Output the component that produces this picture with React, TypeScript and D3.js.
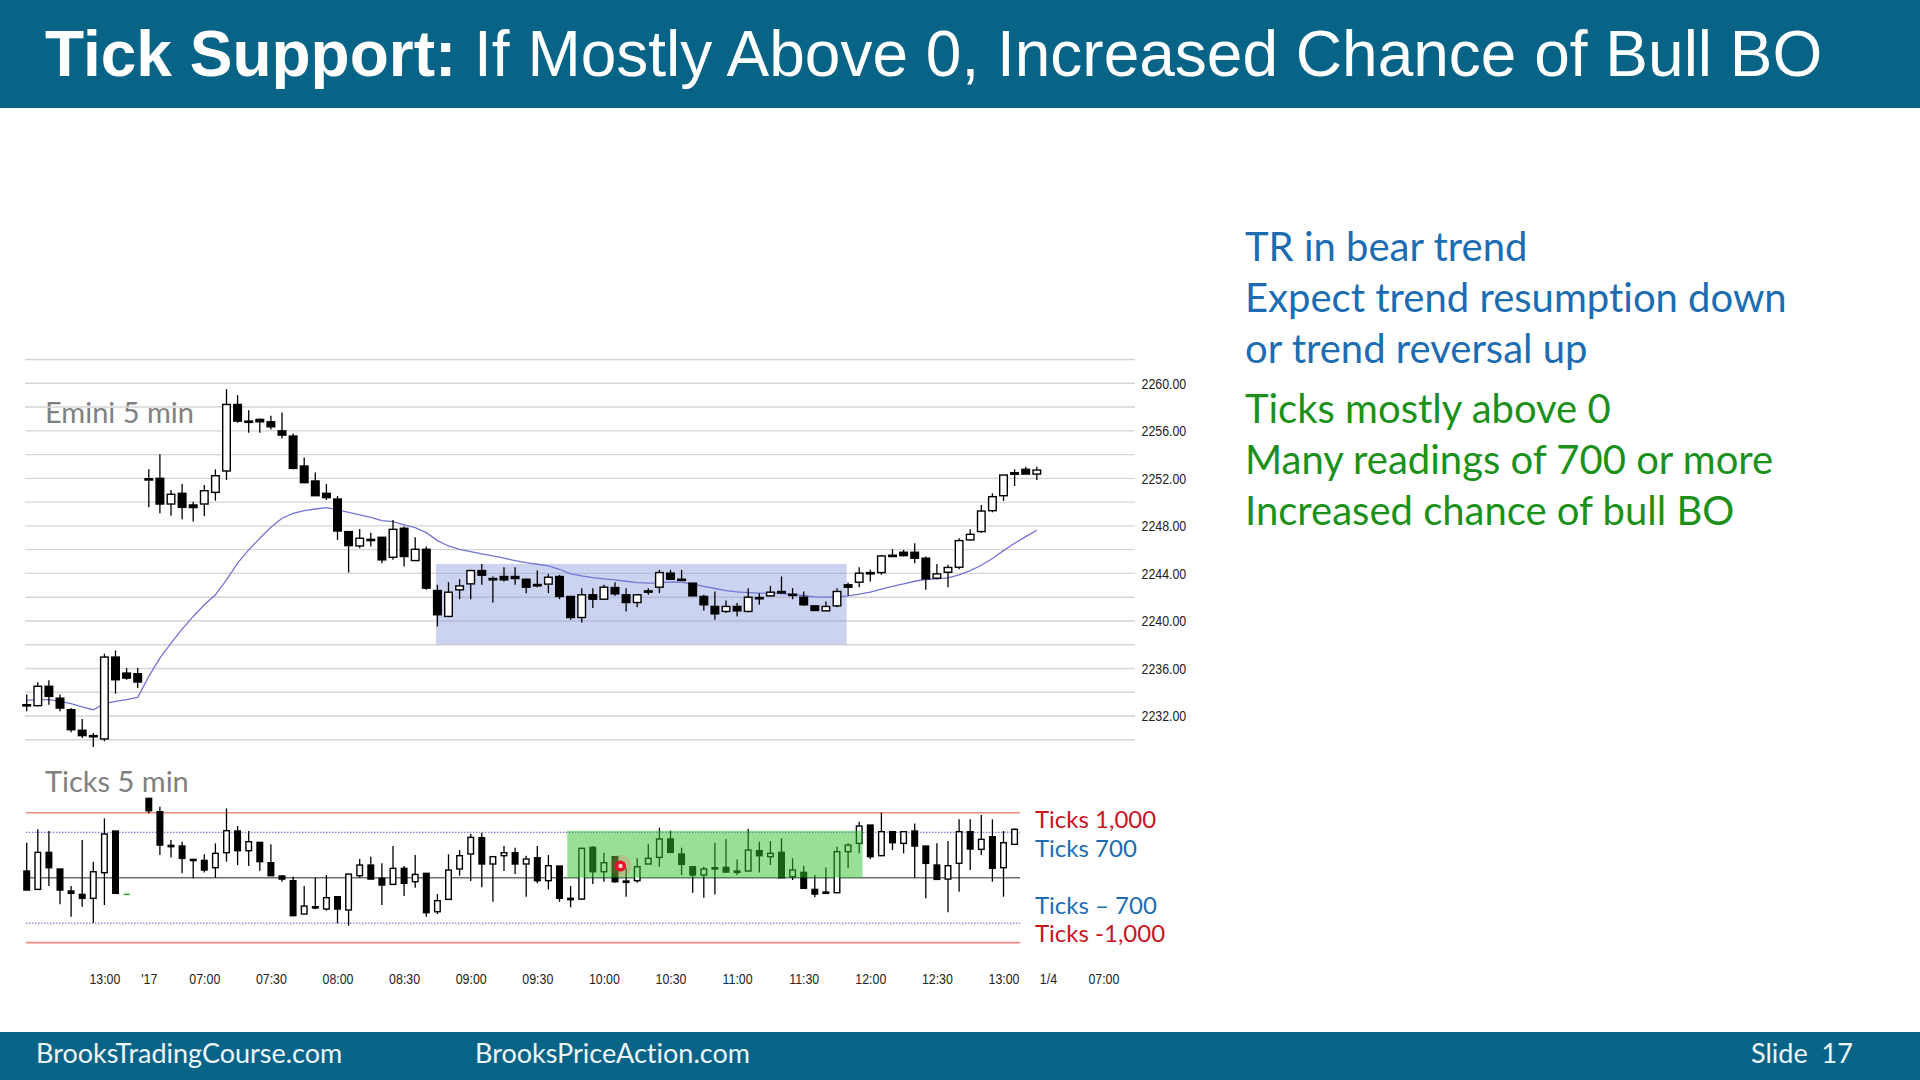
import { useRef, useEffect } from 'react'
import * as d3 from 'd3'

type Candle = [number, number, number, number] // open, high, low, close

// 5-minute sessions shown on the x axis (last one is empty space on the right)
const sessions = [
  { day: '12/30', from: '12:25', to: '13:15' },
  { day: '1/3', from: '06:35', to: '13:15' },
  { day: '1/4', from: '06:35', to: '07:00' },
]

const timeTicks: [string, string][] = [
  ['12/30 13:00', '13:00'],
  ['1/3 06:35', "'17"],
  ['1/3 07:00', '07:00'],
  ['1/3 07:30', '07:30'],
  ['1/3 08:00', '08:00'],
  ['1/3 08:30', '08:30'],
  ['1/3 09:00', '09:00'],
  ['1/3 09:30', '09:30'],
  ['1/3 10:00', '10:00'],
  ['1/3 10:30', '10:30'],
  ['1/3 11:00', '11:00'],
  ['1/3 11:30', '11:30'],
  ['1/3 12:00', '12:00'],
  ['1/3 12:30', '12:30'],
  ['1/3 13:00', '13:00'],
  ['1/4 06:35', '1/4'],
  ['1/4 07:00', '07:00'],
]

const eminiBars: Candle[] = [
  [2232.95, 2233.8, 2232.4, 2232.95], [2232.87, 2234.83, 2232.8, 2234.5], [2234.5, 2235.0, 2232.95, 2233.65],
  [2233.5, 2233.8, 2232.4, 2232.67], [2232.53, 2232.67, 2230.63, 2230.85], [2230.8, 2231.75, 2230.15, 2230.35],
  [2230.35, 2230.57, 2229.4, 2230.3], [2230.07, 2237.24, 2229.87, 2236.96], [2236.96, 2237.52, 2233.88, 2235.05],
  [2235.61, 2236.03, 2235.05, 2235.19], [2235.56, 2236.03, 2234.35, 2234.86],
  [2251.97, 2252.76, 2249.56, 2251.86], [2252.0, 2254.02, 2249.06, 2249.84], [2249.84, 2251.02, 2248.86, 2250.66],
  [2250.74, 2251.52, 2248.55, 2249.56], [2249.76, 2250.04, 2248.36, 2249.54], [2249.84, 2251.44, 2248.83, 2250.96],
  [2250.82, 2252.76, 2250.12, 2252.22], [2252.62, 2259.51, 2251.86, 2258.22], [2258.22, 2259.0, 2256.68, 2256.82],
  [2256.82, 2257.74, 2255.84, 2256.71], [2256.96, 2257.04, 2255.84, 2256.76], [2256.76, 2257.27, 2256.12, 2256.34],
  [2256.0, 2257.55, 2255.36, 2255.64], [2255.56, 2255.78, 2252.76, 2252.84], [2253.04, 2253.76, 2251.58, 2251.64],
  [2251.78, 2252.5, 2250.54, 2250.54], [2250.74, 2251.52, 2250.18, 2250.38], [2250.26, 2250.52, 2246.82, 2247.57],
  [2247.52, 2247.52, 2244.07, 2246.34], [2246.31, 2247.74, 2246.12, 2246.96], [2246.87, 2247.43, 2246.26, 2246.76],
  [2247.04, 2247.04, 2244.86, 2245.14], [2245.36, 2248.5, 2245.14, 2247.71], [2247.8, 2247.94, 2244.58, 2245.42],
  [2245.08, 2247.04, 2245.08, 2246.03], [2246.03, 2246.26, 2242.62, 2242.76], [2242.56, 2243.04, 2239.54, 2240.52],
  [2240.38, 2243.26, 2240.32, 2242.42], [2242.62, 2243.51, 2241.83, 2242.95], [2243.12, 2244.3, 2241.83, 2244.24],
  [2244.24, 2244.8, 2243.04, 2243.85], [2243.57, 2243.74, 2241.55, 2243.46], [2243.74, 2244.52, 2243.32, 2243.46],
  [2243.74, 2244.52, 2243.04, 2243.57], [2243.51, 2243.51, 2242.34, 2242.84], [2243.07, 2244.24, 2242.84, 2242.95],
  [2243.1, 2243.96, 2242.34, 2243.68], [2243.74, 2243.88, 2241.83, 2242.06], [2242.06, 2242.06, 2240.1, 2240.29],
  [2240.29, 2242.76, 2239.87, 2242.2], [2242.2, 2242.76, 2241.08, 2241.83], [2241.83, 2243.04, 2241.78, 2242.84],
  [2242.81, 2243.26, 2242.11, 2242.28], [2242.2, 2242.76, 2240.8, 2241.55], [2241.55, 2242.2, 2241.16, 2242.2],
  [2242.53, 2242.76, 2242.2, 2242.42], [2242.84, 2244.3, 2242.34, 2244.07], [2244.02, 2244.3, 2243.46, 2243.51],
  [2243.51, 2244.3, 2243.4, 2243.46], [2243.18, 2243.18, 2242.11, 2242.11], [2242.06, 2242.2, 2240.88, 2241.36],
  [2241.22, 2242.48, 2240.1, 2240.6], [2240.8, 2241.72, 2240.66, 2241.22], [2241.22, 2241.5, 2240.38, 2240.85],
  [2240.8, 2242.76, 2240.74, 2242.0], [2241.97, 2242.34, 2241.36, 2241.86], [2242.11, 2242.95, 2242.06, 2242.42],
  [2242.48, 2243.74, 2242.34, 2242.36], [2242.25, 2242.76, 2241.83, 2242.14], [2242.0, 2242.48, 2241.27, 2241.36],
  [2241.27, 2241.27, 2240.88, 2240.88], [2240.85, 2241.64, 2240.85, 2241.22], [2241.27, 2242.76, 2241.16, 2242.48],
  [2243.04, 2243.23, 2242.11, 2242.84], [2243.26, 2244.52, 2242.84, 2244.02], [2244.07, 2244.3, 2243.32, 2243.96],
  [2244.07, 2245.56, 2243.88, 2245.47], [2245.53, 2246.03, 2245.36, 2245.42], [2245.78, 2245.98, 2245.42, 2245.5],
  [2245.78, 2246.54, 2244.86, 2245.28], [2245.28, 2245.42, 2242.62, 2243.54], [2243.6, 2244.8, 2243.51, 2243.96],
  [2244.1, 2244.72, 2242.84, 2244.5], [2244.52, 2246.96, 2244.35, 2246.76], [2246.82, 2247.71, 2246.76, 2247.29],
  [2247.52, 2249.76, 2247.43, 2249.25], [2249.28, 2250.74, 2249.14, 2250.46], [2250.54, 2252.28, 2250.1, 2252.28],
  [2252.48, 2252.76, 2251.36, 2252.34], [2252.76, 2252.98, 2252.36, 2252.36], [2252.36, 2252.98, 2251.86, 2252.7],
]

// 20-bar exponential moving average, as plotted on the price chart
const eminiEma: number[] = [
  2233.32, 2233.37, 2233.37, 2233.23, 2233.04, 2232.76, 2232.53, 2233.04, 2233.23, 2233.37, 2233.57,
  2235.33, 2236.87, 2238.13, 2239.31, 2240.38, 2241.36, 2242.2, 2243.46, 2244.86, 2245.98, 2246.96,
  2247.88, 2248.64, 2249.06, 2249.28, 2249.42, 2249.53, 2249.34, 2249.14, 2248.92, 2248.72, 2248.44,
  2248.36, 2248.08, 2247.85, 2247.43, 2246.76, 2246.31, 2246.03, 2245.84, 2245.64, 2245.47, 2245.28,
  2245.08, 2244.91, 2244.77, 2244.63, 2244.35, 2243.96, 2243.79, 2243.65, 2243.54, 2243.46, 2243.34,
  2243.23, 2243.18, 2243.2, 2243.29, 2243.26, 2243.09, 2242.9, 2242.73, 2242.56, 2242.45, 2242.39,
  2242.34, 2242.34, 2242.31, 2242.22, 2242.14, 2242.03, 2242.0, 2242.0, 2242.11, 2242.25, 2242.42,
  2242.67, 2242.9, 2243.12, 2243.34, 2243.51, 2243.54, 2243.62, 2243.88, 2244.24, 2244.69, 2245.25,
  2245.92, 2246.54, 2247.1, 2247.63,
]

// NYSE tick, 5-minute bars; null where no bar was printed
const tickBars: (Candle | null)[] = [
  [103, 539, -190, -190], [-180, 745, -180, 390], [390, 719, -128, 154], [134, 134, -411, -190],
  [-205, -128, -601, -241], [-257, 580, -447, -318], [-318, 247, -693, 92], [77, 914, -421, 673],
  [719, 719, -241, -241], [-257, -257, -257, -257], null,
  [1222, 1222, 991, 1032], [1017, 1094, 349, 503], [498, 580, 313, 478], [488, 555, 67, 298],
  [282, 282, -10, 267], [267, 360, 82, 118], [154, 529, 0, 375], [385, 1068, 247, 724],
  [719, 796, 195, 416], [416, 719, 180, 555], [544, 544, 108, 247], [231, 514, 31, 31],
  [26, 36, -62, -21], [-46, 15, -585, -585], [-560, -128, -560, -437], [-447, 5, -488, -467],
  [-483, 41, -508, -308], [-293, -293, -704, -483], [-498, 56, -740, 56], [31, 288, 5, 195],
  [195, 324, -21, -21], [-10, 221, -421, -113], [-103, 488, -103, 144], [144, 180, -282, -87],
  [-62, 349, -154, 51], [67, 67, -601, -539], [-524, -252, -560, -354], [-334, 360, -344, 118],
  [134, 426, 31, 339], [365, 673, -51, 621], [616, 693, -149, 211], [211, 324, -370, 324],
  [339, 488, 103, 385], [385, 462, 56, 211], [211, 339, -293, 288], [308, 488, -87, -46],
  [-46, 349, -180, 185], [180, 180, -370, -318], [-318, -128, -457, -339], [-329, 467, -344, 452],
  [467, 488, -98, 92], [92, 385, -62, 231], [324, 334, -77, -62], [-51, 144, -293, -72],
  [-46, 298, -77, 169], [211, 519, 211, 298], [313, 770, 169, 596], [596, 724, 385, 390],
  [365, 462, 41, 205], [169, 169, -231, 41], [41, 169, -308, 134], [154, 539, -257, 134],
  [159, 596, 77, 87], [103, 282, 41, 82], [103, 750, 103, 426], [416, 555, 82, 339],
  [324, 565, 195, 375], [390, 606, 0, 0], [15, 298, -36, 118], [82, 185, -164, -164],
  [-180, 41, -303, -252], [-221, 159, -241, -241], [-231, 478, -241, 401], [401, 529, 144, 503],
  [529, 863, 375, 796], [811, 811, 288, 324], [339, 1002, 339, 709], [709, 709, 426, 539],
  [529, 719, 375, 709], [719, 837, 0, 488], [488, 488, -318, 221], [195, 529, -26, -26],
  [-21, 565, -534, 185], [221, 899, -216, 709], [709, 899, 118, 442], [437, 966, 349, 591],
  [632, 899, -62, 144], [154, 719, -293, 539], [514, 760, 514, 745],
]

const priceGrid = [2230, 2232, 2234, 2236, 2238, 2240, 2242, 2244, 2246, 2248, 2250, 2252, 2254, 2256, 2258, 2260, 2262]
const priceLabels = [2232, 2236, 2240, 2244, 2248, 2252, 2256, 2260]

const tickLimits = [1000, -1000]
const tickBands = [700, -700]
const tickGuideLabels = ['Ticks 1,000', 'Ticks 700', 'Ticks \u2013 700', 'Ticks -1,000']
const tickGuideValues = [1000, 700, -700, -1000]

// trading range box on the price chart, bullish tick zone on the tick chart
const rangeBox = { from: '1/3 08:45', to: '1/3 11:50', low: 2238.03, high: 2244.8 }
const tickZone = { from: '1/3 09:45', to: '1/3 11:55', low: 0, high: 724 }
const pointer = { at: '1/3 10:05', value: 180 }

const bearNotes = ['TR in bear trend', 'Expect trend resumption down', 'or trend reversal up']
const tickNotes = ['Ticks mostly above 0', 'Many readings of 700 or more', 'Increased chance of bull BO']

const SLIDE_BLUE = '#086487'
const NOTE_BLUE = '#1c6cb2'
const NOTE_GREEN = '#1b911b'
const CALIBRI = "Lato, 'Open Sans', sans-serif"
const AXIS_FONT = "'Liberation Sans', Arial, sans-serif"

function buildSlots() {
  const parse = d3.timeParse('%H:%M')
  const fmt = d3.timeFormat('%H:%M')
  return sessions.flatMap((s) => {
    const a = parse(s.from)!
    const b = parse(s.to)!
    return d3.timeMinute
      .every(5)!
      .range(a, new Date(+b + 1))
      .map((t) => `${s.day} ${fmt(t)}`)
  })
}

export default function App() {
  const chartRef = useRef<SVGGElement>(null)

  useEffect(() => {
    if (!chartRef.current) return
    const g = d3.select(chartRef.current)
    g.selectAll('*').remove()

    const slots = buildSlots()
    const x = d3.scalePoint<string>().domain(slots).range([26.7, 1103.4])
    const step = x.step()
    const yPrice = d3.scaleLinear().domain([2232, 2260]).range([716, 383.3])
    const yTick = d3.scaleLinear().domain([-1000, 1000]).range([942.6, 812.8])

    // Price grid
    g.append('g')
      .selectAll('line')
      .data(priceGrid)
      .join('line')
      .attr('x1', 25)
      .attr('x2', 1135)
      .attr('y1', (d) => yPrice(d))
      .attr('y2', (d) => yPrice(d))
      .attr('stroke', '#d5d5d5')
      .attr('stroke-width', 1.4)

    // Trading range box
    g.append('rect')
      .attr('x', x(rangeBox.from)! - step * 0.13)
      .attr('width', x(rangeBox.to)! - x(rangeBox.from)!)
      .attr('y', yPrice(rangeBox.high))
      .attr('height', yPrice(rangeBox.low) - yPrice(rangeBox.high))
      .attr('fill', '#8c9ede')
      .attr('fill-opacity', 0.45)

    // Price axis labels (squeezed to a narrow face)
    const yAxis = d3
      .axisRight(yPrice)
      .tickValues(priceLabels)
      .tickSize(0)
      .tickPadding(0)
      .tickFormat(d3.format('.2f') as any)
    const ya = g.append('g').attr('transform', 'translate(1141.5,0)').call(yAxis)
    ya.select('.domain').remove()
    ya.selectAll('text')
      .attr('font-family', AXIS_FONT)
      .attr('font-size', 15.5)
      .attr('transform', 'scale(0.8,1)')
      .attr('fill', '#222')

    // EMA
    const ema = d3
      .line<number>()
      .x((_, i) => x(slots[i])!)
      .y((d) => yPrice(d))
    g.append('path')
      .datum(eminiEma)
      .attr('fill', 'none')
      .attr('stroke', '#7474d6')
      .attr('stroke-width', 1.3)
      .attr('d', ema)

    const drawCandles = (
      layer: d3.Selection<SVGGElement, unknown, null, undefined>,
      bars: (Candle | null)[],
      y: d3.ScaleLinear<number, number>,
      bodyW: number
    ) => {
      const items = bars
        .map((b, i) => ({ b, key: slots[i] }))
        .filter((d): d is { b: Candle; key: string } => d.b !== null)
      const c = layer.selectAll('g').data(items).join('g')
      const flat = (d: { b: Candle }) => d.b[1] === d.b[2]
      c.filter((d) => flat(d))
        .append('line')
        .attr('x1', (d) => x(d.key)! - 3)
        .attr('x2', (d) => x(d.key)! + 3)
        .attr('y1', (d) => y(d.b[0]))
        .attr('y2', (d) => y(d.b[0]))
        .attr('stroke', '#2f9a2f')
        .attr('stroke-width', 1.5)
      const real = c.filter((d) => !flat(d))
      real
        .append('line')
        .attr('x1', (d) => x(d.key)!)
        .attr('x2', (d) => x(d.key)!)
        .attr('y1', (d) => y(d.b[1]))
        .attr('y2', (d) => y(d.b[2]))
        .attr('stroke', '#000')
        .attr('stroke-width', 1.3)
      real
        .append('rect')
        .attr('x', (d) => x(d.key)! - bodyW / 2)
        .attr('width', bodyW)
        .attr('y', (d) => y(Math.max(d.b[0], d.b[3])))
        .attr('height', (d) => Math.max(Math.abs(y(d.b[0]) - y(d.b[3])), 1.2))
        .attr('fill', (d) => (d.b[3] > d.b[0] ? '#fff' : '#000'))
        .attr('stroke', '#000')
        .attr('stroke-width', 1.4)
    }

    drawCandles(g.append('g'), eminiBars, yPrice, 7.6)

    // Tick chart guides
    g.append('g')
      .selectAll('line')
      .data(tickLimits)
      .join('line')
      .attr('x1', 26)
      .attr('x2', 1020)
      .attr('y1', (d) => yTick(d))
      .attr('y2', (d) => yTick(d))
      .attr('stroke', '#f08a80')
      .attr('stroke-width', 1.6)
    g.append('g')
      .selectAll('line')
      .data(tickBands)
      .join('line')
      .attr('x1', 26)
      .attr('x2', 1020)
      .attr('y1', (d) => yTick(d))
      .attr('y2', (d) => yTick(d))
      .attr('stroke', '#5a5ad8')
      .attr('stroke-width', 1)
      .attr('stroke-dasharray', '1.5 1.5')
    g.append('line')
      .attr('x1', 26)
      .attr('x2', 1020)
      .attr('y1', yTick(0))
      .attr('y2', yTick(0))
      .attr('stroke', '#6e6e6e')
      .attr('stroke-width', 1.4)

    drawCandles(g.append('g'), tickBars, yTick, 5.6)

    // Bullish tick zone drawn over the bars
    g.append('rect')
      .attr('x', x(tickZone.from)! - step * 0.3)
      .attr('width', x(tickZone.to)! - x(tickZone.from)! + step * 0.6)
      .attr('y', yTick(tickZone.high))
      .attr('height', yTick(tickZone.low) - yTick(tickZone.high))
      .attr('fill', '#32c032')
      .attr('fill-opacity', 0.5)

    // Tick guide labels
    const labelShift = [15, 24.5, -9.5, -1]
    g.append('g')
      .selectAll('text')
      .data(tickGuideLabels)
      .join('text')
      .attr('x', 1035)
      .attr('y', (_, i) => yTick(tickGuideValues[i]) + labelShift[i])
      .attr('font-family', CALIBRI)
      .attr('font-size', 24)
      .attr('fill', (_, i) => (Math.abs(tickGuideValues[i]) === 1000 ? '#c8141e' : NOTE_BLUE))
      .text((d) => d)

    // Time axis
    const tickLabel = new Map(timeTicks)
    const xAxis = d3
      .axisBottom(x)
      .tickValues(timeTicks.map((d) => d[0]))
      .tickSize(0)
      .tickPadding(3)
      .tickFormat((d) => tickLabel.get(d) ?? '')
    const xa = g.append('g').attr('transform', 'translate(0,970)').call(xAxis)
    xa.select('.domain').remove()
    xa.selectAll('text')
      .attr('font-family', AXIS_FONT)
      .attr('font-size', 15.5)
      .attr('transform', 'scale(0.8,1)')
      .attr('fill', '#222')

    // Presenter's laser pointer
    const px = x(pointer.at)! + step / 2
    const py = yTick(pointer.value)
    g.append('circle').attr('cx', px).attr('cy', py).attr('r', 11).attr('fill', '#ff5a5a').attr('fill-opacity', 0.22)
    g.append('circle').attr('cx', px).attr('cy', py).attr('r', 5.5).attr('fill', '#e8102a')
    g.append('circle').attr('cx', px).attr('cy', py).attr('r', 2.2).attr('fill', '#ffd0d4')
  }, [])

  return (
    <svg
      width={1920}
      height={1080}
      style={{ position: 'absolute', left: 0, top: 0, background: '#fff', fontVariantLigatures: 'none' }}
    >
      <rect x={0} y={0} width={1920} height={108} fill={SLIDE_BLUE} />
      <text x={45} y={76} fill="#fff" fontFamily="'Liberation Sans', Arial, sans-serif" fontSize={64}>
        <tspan fontWeight="bold">Tick Support:</tspan>
        <tspan> If Mostly Above 0, Increased Chance of Bull BO</tspan>
      </text>

      <text x={45} y={423} fill="#808080" fontFamily={CALIBRI} fontSize={29}>
        Emini 5 min
      </text>
      <text x={45} y={792} fill="#808080" fontFamily={CALIBRI} fontSize={29}>
        Ticks 5 min
      </text>

      <g ref={chartRef} />

      <g fontFamily={CALIBRI} fontSize={40}>
        {bearNotes.map((t, i) => (
          <text key={t} x={1245} y={260.5 + i * 51} fill={NOTE_BLUE}>
            {t}
          </text>
        ))}
        {tickNotes.map((t, i) => (
          <text key={t} x={1245} y={422.5 + i * 51} fill={NOTE_GREEN}>
            {t}
          </text>
        ))}
      </g>

      <rect x={0} y={1032} width={1920} height={48} fill={SLIDE_BLUE} />
      <g fontFamily={CALIBRI} fontSize={27} fill="#eef6fa">
        <text x={36} y={1063}>BrooksTradingCourse.com</text>
        <text x={475} y={1063}>BrooksPriceAction.com</text>
        <text x={1751} y={1063} xmlSpace="preserve">Slide  17</text>
      </g>
    </svg>
  )
}
